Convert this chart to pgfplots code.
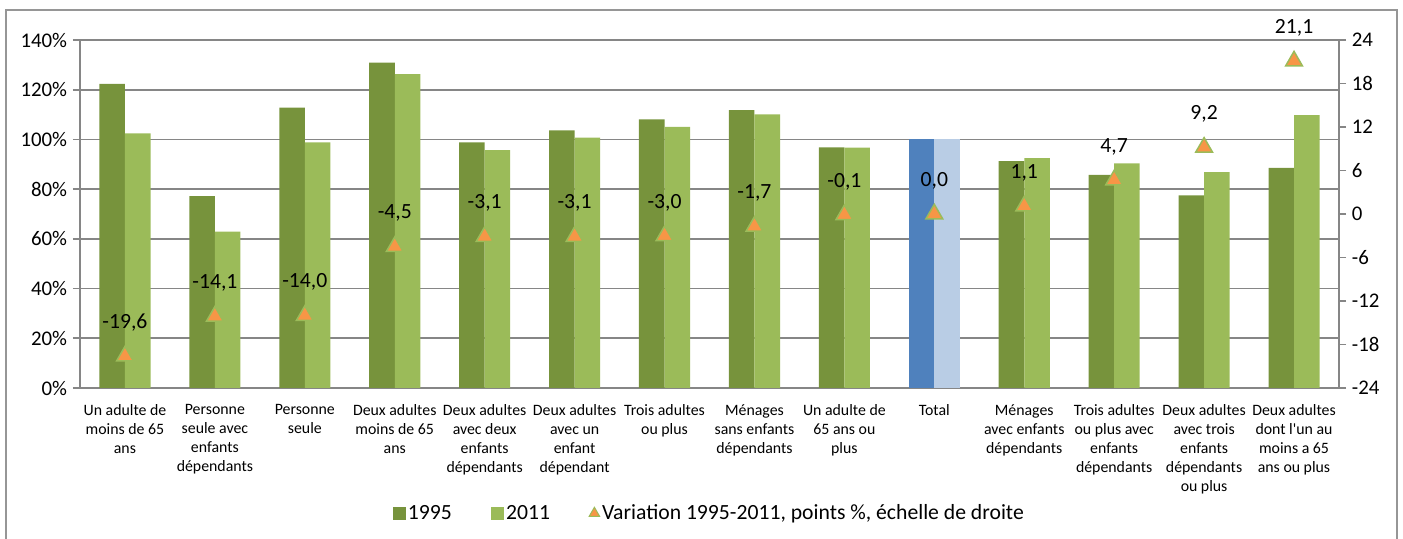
\documentclass[border=0pt]{standalone}
\usepackage{fontspec}
\setmainfont{Carlito}
\usepackage{pgfplots}
\pgfplotsset{compat=1.18}

\definecolor{cA}{RGB}{119,147,60}
\definecolor{cB}{RGB}{155,187,89}
\definecolor{tA}{RGB}{79,129,189}
\definecolor{tB}{RGB}{185,205,229}
\definecolor{orng}{RGB}{247,150,70}
\definecolor{gridgray}{RGB}{134,134,134}
\definecolor{framegray}{RGB}{150,150,150}

\newcommand{\tickfont}{\fontsize{12.5}{15}\selectfont}

\begin{document}
\begin{tikzpicture}
\useasboundingbox (-48pt,-90.6pt) rectangle (793.8pt,232.8pt);
\draw[framegray, line width=1.2pt] (-44.4pt,-110pt) rectangle (790.2pt,226.8pt);

% bars, left scale
\begin{axis}[
  at={(0pt,0pt)}, anchor=south west,
  width=755.4pt, height=208.8pt, scale only axis,
  xmin=-0.5, xmax=13.5, ymin=0, ymax=140,
  axis x line*=bottom, axis y line*=left,
  axis line style={gridgray, line width=1pt},
  ytick={0,20,...,140},
  yticklabel={\pgfmathprintnumber{\tick}\%},
  /pgf/number format/assume math mode=true,
  ymajorgrids, grid style={gridgray, line width=1.1pt},
  tick align=outside, major tick length=4.2pt,
  y tick style={gridgray, line width=1pt},
  x tick style={draw=none},
  tick label style={font=\tickfont},
  xtick={0,...,13},
  xticklabels={
    {Un adulte de\\moins de 65\\ans},
    {Personne\\seule avec\\enfants\\dépendants},
    {Personne\\seule},
    {Deux adultes\\moins de 65\\ans},
    {Deux adultes\\avec deux\\enfants\\dépendants},
    {Deux adultes\\avec un\\enfant\\dépendant},
    {Trois adultes\\ou plus},
    {Ménages\\sans enfants\\dépendants},
    {Un adulte de\\65 ans ou\\plus},
    {Total},
    {Ménages\\avec enfants\\dépendants},
    {Trois adultes\\ou plus avec\\enfants\\dépendants},
    {Deux adultes\\avec trois\\enfants\\dépendants\\ou plus},
    {Deux adultes\\dont l\textquotesingle un au\\moins a 65\\ans ou plus}},
  xticklabel style={align=center, anchor=north, yshift=-2pt,
    font=\fontsize{9.5}{11.4}\selectfont},
]
\addplot[ybar, bar width=0.284, bar shift=-0.142, fill=cA, draw=none] coordinates {
  (0,122.3) (1,77.2) (2,112.8) (3,130.9) (4,98.8) (5,103.6) (6,108.1)
  (7,111.8) (8,96.8) (10,91.3) (11,85.7) (12,77.5) (13,88.6)
};
\addplot[ybar, bar width=0.284, bar shift=0.142, fill=cB, draw=none] coordinates {
  (0,102.4) (1,62.9) (2,98.8) (3,126.3) (4,95.7) (5,100.7) (6,105.0)
  (7,110.1) (8,96.7) (10,92.5) (11,90.4) (12,86.8) (13,109.8)
};
\addplot[ybar, bar width=0.284, bar shift=-0.142, fill=tA, draw=none] coordinates {(9,100)};
\addplot[ybar, bar width=0.284, bar shift=0.142, fill=tB, draw=none] coordinates {(9,100)};
\end{axis}

% variation, right scale
\begin{axis}[
  at={(0pt,0pt)}, anchor=south west,
  width=755.4pt, height=208.8pt, scale only axis,
  xmin=-0.5, xmax=13.5, ymin=-24, ymax=24,
  axis x line=none, axis y line*=right,
  axis line style={gridgray, line width=1pt},
  ytick={-24,-18,...,24},
  /pgf/number format/assume math mode=true,
  tick align=outside, major tick length=4.2pt,
  y tick style={gridgray, line width=1pt},
  tick label style={font=\tickfont},
  legend columns=3,
  legend style={draw=none, at={(0.5,-0.36)}, anchor=center,
    font=\fontsize{13}{15}\selectfont,
    nodes={inner xsep=1.5pt},
    /tikz/every even column/.append style={column sep=22pt}},
]
\addlegendimage{legend image code/.code={\fill[cA] (0pt,-3.6pt) rectangle (7.2pt,3.6pt);}}
\addlegendentry{1995}
\addlegendimage{legend image code/.code={\fill[cB] (0pt,-3.6pt) rectangle (7.2pt,3.6pt);}}
\addlegendentry{2011}
\addplot[only marks, mark=triangle*, mark size=5.8pt,
  mark options={fill=orng, draw=cB, line width=0.9pt},
  legend image code/.code={\draw[mark size=3.6pt, mark options={fill=orng, draw=cB, line width=0.6pt}] plot[mark=triangle*] coordinates {(3.6pt,0pt)};},
  point meta=explicit symbolic, nodes near coords,
  every node near coord/.append style={anchor=center, yshift=20pt,
    font=\fontsize{13}{15}\selectfont, text=black}]
coordinates {
  (0,-19.6) [{-19,6}] (1,-14.1) [{-14,1}] (2,-14.0) [{-14,0}]
  (3,-4.5) [{-4,5}] (4,-3.1) [{-3,1}] (5,-3.1) [{-3,1}]
  (6,-3.0) [{-3,0}] (7,-1.7) [{-1,7}] (8,-0.1) [{-0,1}]
  (9,0.0) [{0,0}] (10,1.1) [{1,1}] (11,4.7) [{4,7}]
  (12,9.2) [{9,2}] (13,21.1) [{21,1}]
};
\addlegendentry{Variation 1995-2011, points \%, échelle de droite}
\end{axis}
\end{tikzpicture}
\end{document}
